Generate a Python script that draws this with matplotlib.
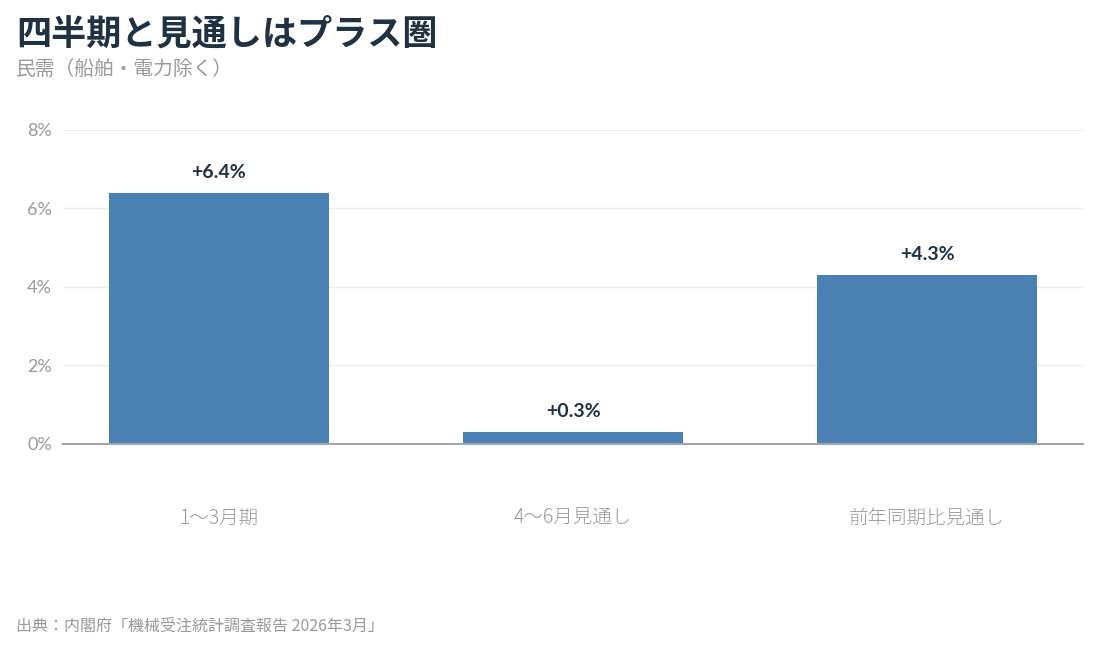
import matplotlib.pyplot as plt

# Data
categories = ["1〜3月期", "4〜6月見通し", "前年同期比見通し"]
values = [6.4, 0.3, 4.3]
yticks = [0, 2, 4, 6, 8]
ytick_labels = ["0%", "2%", "4%", "6%", "8%"]

title = "四半期と見通しはプラス圏"
subtitle = "民需（船舶・電力除く）"
source = "出典：内閣府「機械受注統計調査報告 2026年3月」"

jp = ["Noto Sans CJK JP", "DejaVu Sans"]
num = ["Lato", "Noto Sans CJK JP", "DejaVu Sans"]

bar_color = "#4a80b2"
dark = "#1e3244"
gray = "#9a9a9a"

fig = plt.figure(figsize=(10.98, 6.49), dpi=100)
ax = fig.add_axes([0.0574, 0.3159, 0.9289, 0.4838])

x = list(range(len(categories)))
ax.bar(x, values, width=0.62, color=bar_color, zorder=3)

for xi, v in zip(x, values):
    ax.text(xi, v + 0.3, f"+{v:.1f}%", ha="center", va="bottom",
            fontsize=14, fontweight="bold", color=dark, family=num)

ax.set_xlim(-0.44, 2.44)
ax.set_ylim(0, 8)
ax.set_yticks(yticks)
ax.set_yticklabels(ytick_labels, family=num, fontsize=13, color=gray)
ax.set_xticks(x)
ax.set_xticklabels(categories, family=jp, fontsize=14, color=gray,
                   fontweight="light")
ax.tick_params(axis="x", length=0, pad=46)
ax.tick_params(axis="y", length=0, pad=8)

ax.grid(axis="y", color="#ececec", linewidth=1, zorder=0)
for s in ["top", "right", "left"]:
    ax.spines[s].set_visible(False)
ax.spines["bottom"].set_color("#a0a6ad")
ax.spines["bottom"].set_linewidth(1.5)
ax.spines["bottom"].set_zorder(4)

fig.text(16 / 1098, 1 - 34 / 649, title, family=jp, fontsize=25.3,
         fontweight="bold", color=dark, va="center", ha="left")
fig.text(16 / 1098, 1 - 69 / 649, subtitle, family=jp, fontsize=14.2,
         color=gray, va="center", ha="left")
fig.text(16 / 1098, 1 - 626 / 649, source, family=jp, fontsize=11.5,
         color=gray, va="center", ha="left")

fig.savefig("out.png", dpi=100)
